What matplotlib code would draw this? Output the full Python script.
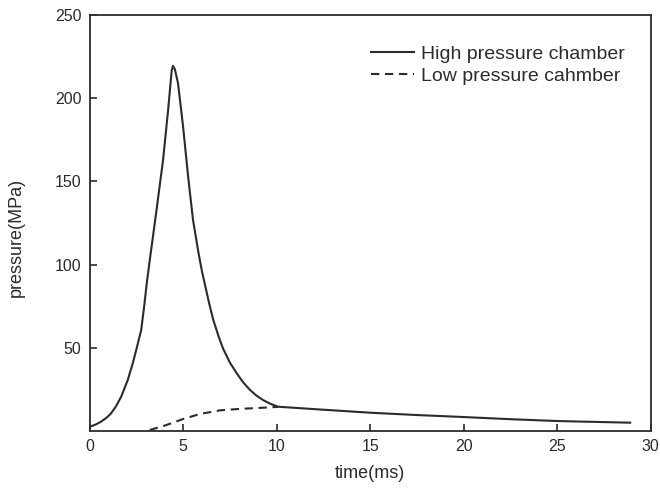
import matplotlib

matplotlib.use("Agg")
import matplotlib.pyplot as plt

plt.rcParams["font.family"] = ["Liberation Sans", "DejaVu Sans"]

# high pressure chamber (time ms, pressure MPa)
high_t = [0, 0.3, 0.6, 0.9, 1.14, 1.4, 1.68, 2.03, 2.3, 2.53, 2.75, 2.9, 3.05, 3.21,
          3.57, 3.92, 4.19, 4.38, 4.45, 4.55, 4.72, 4.99, 5.26, 5.52, 5.8, 6.0,
          6.24, 6.4, 6.6, 6.9, 7.13, 7.5, 7.84, 8.2, 8.56, 8.9, 9.27, 9.65, 10.07,
          12.5, 15, 17.5, 20, 22.5, 25, 28.9]
high_p = [2.6, 3.8, 5.6, 8.0, 10.6, 14.8, 20.6, 30.6, 40.7, 50.7, 60.7, 74, 89, 102.8,
          132.8, 162.9, 192.9, 216.5, 219.5, 217.5, 209, 183, 153, 127, 108, 96,
          84, 76, 67, 56.5, 49.5, 41, 35, 29.3, 24.8, 21.4, 18.6, 16.4, 14.6,
          12.8, 11.0, 9.6, 8.4, 7.1, 6.0, 5.0]

# low pressure chamber
low_t = [3.21, 4.1, 4.99, 5.88, 6.95, 8.02, 9.1, 10.07]
low_p = [0.6, 3.6, 7.2, 10.2, 12.4, 13.3, 13.9, 14.5]

x_ticks = [0, 5, 10, 15, 20, 25, 30]
y_ticks = [50, 100, 150, 200, 250]

fig = plt.figure(figsize=(6.6, 4.94), dpi=100)
ax = fig.add_axes([0.136, 0.1275, 0.85, 0.842])

ink = "#2b2b2b"
ax.plot(high_t, high_p, color=ink, lw=1.5, label="High pressure chamber",
        solid_joinstyle="round")
ax.plot(low_t, low_p, color=ink, lw=1.5, dashes=(4, 2.7), label="Low pressure cahmber")

ax.set_xlim(0, 30)
ax.set_ylim(0, 250)
ax.set_xticks(x_ticks)
ax.set_yticks(y_ticks)
ax.tick_params(direction="in", length=5, width=1.2, labelsize=11.5, colors=ink, pad=6)
for s in ax.spines.values():
    s.set_linewidth(1.3)
    s.set_color(ink)

ax.set_xlabel("time(ms)", fontsize=13, color=ink, labelpad=8)
ax.set_ylabel("pressure(MPa)", fontsize=13, color=ink)
ax.yaxis.set_label_coords(-0.116, 0.466)

ax.legend(loc="upper right", bbox_to_anchor=(0.985, 0.97), frameon=False, fontsize=14,
          handlelength=2.2, handletextpad=0.35, labelspacing=0.25, labelcolor=ink)

fig.savefig("out.png", dpi=100)
